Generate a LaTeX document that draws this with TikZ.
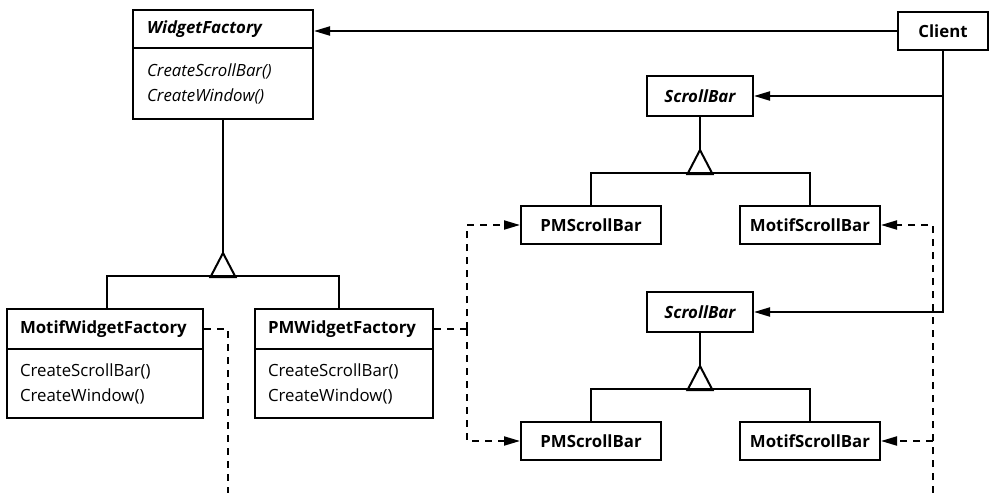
\documentclass[tikz,border=0pt]{standalone}
\usepackage{fontspec}
\setmainfont{Open Sans}
\usetikzlibrary{arrows.meta}
\begin{document}
\begin{tikzpicture}[x=1pt,y=-1pt,line width=2pt,
  base/.style={draw,inner sep=0pt,align=left,font=\fontsize{16.8}{25}\selectfont},
  ttl/.style={base,font=\fontsize{16.8}{25}\selectfont\bfseries},
  attl/.style={base,font=\fontsize{16.8}{25}\selectfont\bfseries\itshape},
  abody/.style={base,font=\fontsize{16.8}{25}\selectfont\itshape},
  ctr/.style={align=center},
  arr/.style={-{Triangle[length=16pt,width=9pt]}},
  dsh/.style={dash pattern=on 7pt off 6pt},
  tri/.style={fill=white}]
\useasboundingbox (0,0) rectangle (989,493);
% top abstract factory
\node[attl,minimum width=180pt,minimum height=38pt,text width=152pt] (wf) at (223,29) {WidgetFactory};
\node[abody,minimum width=180pt,minimum height=71pt,text width=152pt] (wfb) at (223,83.5) {CreateScrollBar()\\CreateWindow()};
% concrete factories
\node[ttl,minimum width=196pt,minimum height=40pt,text width=170pt] (mwf) at (105,329) {MotifWidgetFactory};
\node[base,minimum width=196pt,minimum height=69pt,text width=170pt] (mwfb) at (105,383.5) {CreateScrollBar()\\CreateWindow()};
\node[ttl,minimum width=178pt,minimum height=40pt,text width=152pt] (pwf) at (344,329) {PMWidgetFactory};
\node[base,minimum width=178pt,minimum height=69pt,text width=152pt] (pwfb) at (344,383.5) {CreateScrollBar()\\CreateWindow()};
% client
\node[ttl,ctr,minimum width=90pt,minimum height=38pt] (client) at (943,31) {Client};
% scrollbars
\node[attl,ctr,minimum width=106pt,minimum height=40pt] (sb1) at (700,96) {ScrollBar};
\node[attl,ctr,minimum width=106pt,minimum height=40pt] (sb2) at (700,312) {ScrollBar};
\node[ttl,ctr,minimum width=140pt,minimum height=38pt] (psb1) at (591,225) {PMScrollBar};
\node[ttl,ctr,minimum width=140pt,minimum height=38pt] (msb1) at (810,225) {MotifScrollBar};
\node[ttl,ctr,minimum width=140pt,minimum height=38pt] (psb2) at (591,441) {PMScrollBar};
\node[ttl,ctr,minimum width=140pt,minimum height=38pt] (msb2) at (810,441) {MotifScrollBar};
% client associations
\draw[arr] (client.west) -- (wf.east |- client.west);
\draw[arr] (client.south) |- (sb2.east);
\draw[arr] (client.south |- sb1.east) -- (sb1.east);
% inheritance: widget factory
\path (wfb.south) ++(0,133) coordinate (t1);
\draw (wfb.south) -- (t1);
\draw[tri] (t1) -- ++(-12.5,24) -- ++(25,0) -- cycle;
\draw (mwf.north -| 107,0) |- (t1 |- 0,276) -| (pwf.north -| 339,0);
% inheritance: scrollbars
\path (sb1.south) ++(0,33) coordinate (t2);
\draw (sb1.south) -- (t2);
\draw[tri] (t2) -- ++(-12.5,24) -- ++(25,0) -- cycle;
\draw (psb1.north) |- (t2 |- 0,173) -| (msb1.north);
\path (sb2.south) ++(0,33) coordinate (t3);
\draw (sb2.south) -- (t3);
\draw[tri] (t3) -- ++(-12.5,24) -- ++(25,0) -- cycle;
\draw (psb2.north) |- (t3 |- 0,389) -| (msb2.north);
% dependencies (dashed)
\coordinate (dm) at (228,493);
\draw[dsh] (mwf.east) -| (dm);
\coordinate (dl) at (467,329);
\draw[dsh] (pwf.east) -- (dl);
\draw[dsh,arr] (dl) |- (psb1.west);
\draw[dsh,arr] (dl) |- (psb2.west);
\coordinate (dr) at (933,493);
\draw[dsh,arr] (dr) |- (msb2.east);
\draw[dsh,arr] (dr) |- (msb1.east);
\end{tikzpicture}
\end{document}
